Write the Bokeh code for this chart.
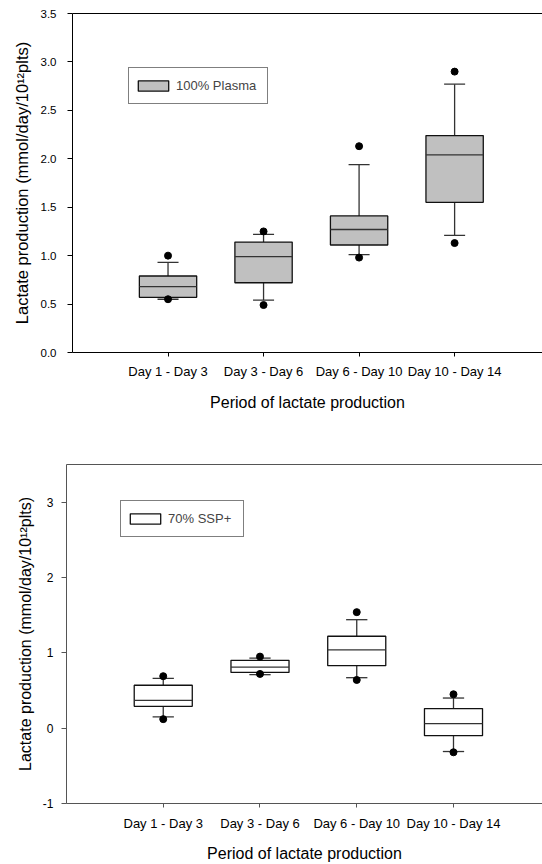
from bokeh.plotting import figure
from bokeh.models import (FixedTicker, LinearAxis, Legend, LegendItem,
                          NumeralTickFormatter, ColumnDataSource)
from bokeh.transform import dodge
from bokeh.embed import file_html
from bokeh.resources import INLINE

# ---------------- data ----------------
periods = ["Day 1 - Day 3", "Day 3 - Day 6", "Day 6 - Day 10", "Day 10 - Day 14"]
positions = [1, 2, 3, 4]

# 100% Plasma
plasma_q1 = [0.57, 0.72, 1.11, 1.55]
plasma_med = [0.68, 0.99, 1.27, 2.04]
plasma_q3 = [0.79, 1.14, 1.41, 2.24]
plasma_whisk_lo = [0.55, 0.54, 1.01, 1.21]
plasma_whisk_hi = [0.93, 1.22, 1.94, 2.77]
plasma_out_lo = [0.55, 0.49, 0.98, 1.13]
plasma_out_hi = [1.00, 1.25, 2.13, 2.90]

# 70% SSP+
ssp_q1 = [0.29, 0.74, 0.83, -0.10]
ssp_med = [0.37, 0.81, 1.04, 0.06]
ssp_q3 = [0.57, 0.90, 1.22, 0.26]
ssp_whisk_lo = [0.15, 0.71, 0.67, -0.31]
ssp_whisk_hi = [0.66, 0.93, 1.44, 0.40]
ssp_out_lo = [0.12, 0.72, 0.64, -0.32]
ssp_out_hi = [0.69, 0.95, 1.54, 0.45]

plasma_yticks = [0.0, 0.5, 1.0, 1.5, 2.0, 2.5, 3.0, 3.5]
ssp_yticks = [-1, 0, 1, 2, 3]

y_title = "Lactate production (mmol/day/10\u00b9\u00b2plts)"
x_title = "Period of lactate production"

FONT = "Liberation Sans"


def build(q1, med, q3, wlo, whi, olo, ohi, yrange, yticks, yfmt, legend_label,
          box_fill, axis_color, height, border_left, border_top, border_bottom,
          legend_loc, legend_label_width, ytick_size, ytick_standoff,
          xlabel_standoff, xtick_standoff, ytitle_size, ytitle_standoff):
    src = ColumnDataSource(dict(x=positions, q1=q1, med=med, q3=q3,
                                wlo=wlo, whi=whi, olo=olo, ohi=ohi))
    p = figure(width=542, height=height, x_range=(0, 4.92), y_range=yrange,
               output_backend="svg", toolbar_location=None,
               min_border_left=border_left, min_border_right=0,
               min_border_top=border_top, min_border_bottom=border_bottom)
    p.outline_line_color = None
    p.xgrid.visible = False
    p.ygrid.visible = False
    p.background_fill_color = "white"
    p.border_fill_color = "white"

    lc = "#333333"
    lw = 1.3
    # whiskers
    p.segment(x0="x", y0="q3", x1="x", y1="whi", source=src, line_color=lc, line_width=lw)
    p.segment(x0="x", y0="q1", x1="x", y1="wlo", source=src, line_color=lc, line_width=lw)
    # boxes
    box = p.vbar(x="x", width=0.6, bottom="q1", top="q3", source=src,
                 fill_color=box_fill, line_color="#111111", line_width=lw)
    # medians
    p.segment(x0=dodge("x", -0.3), y0="med", x1=dodge("x", 0.3), y1="med",
              source=src, line_color=lc, line_width=lw)
    # caps
    p.segment(x0=dodge("x", -0.11), y0="whi", x1=dodge("x", 0.11), y1="whi",
              source=src, line_color=lc, line_width=lw)
    p.segment(x0=dodge("x", -0.11), y0="wlo", x1=dodge("x", 0.11), y1="wlo",
              source=src, line_color=lc, line_width=lw)
    # outliers
    p.scatter(x="x", y="ohi", source=src, size=7, color="black")
    p.scatter(x="x", y="olo", source=src, size=7, color="black")

    # x axis
    xa = p.xaxis[0]
    xa.ticker = FixedTicker(ticks=positions)
    xa.major_label_overrides = {pos: lab for pos, lab in zip(positions, periods)}
    xa.minor_tick_line_color = None
    xa.major_tick_out = 4
    xa.major_tick_in = 0
    xa.major_label_standoff = xtick_standoff
    xa.major_label_text_font = FONT
    xa.major_label_text_font_size = "13px"
    xa.major_label_text_color = "black"
    xa.axis_label = x_title
    xa.axis_label_text_font = FONT
    xa.axis_label_text_font_size = "16px"
    xa.axis_label_text_font_style = "normal"
    xa.axis_label_text_color = "black"
    xa.axis_label_standoff = xlabel_standoff
    xa.axis_line_color = axis_color
    xa.major_tick_line_color = axis_color

    # y axis
    ya = p.yaxis[0]
    ya.ticker = FixedTicker(ticks=yticks)
    ya.formatter = NumeralTickFormatter(format=yfmt)
    ya.minor_tick_line_color = None
    ya.major_tick_out = 5
    ya.major_tick_in = 0
    ya.major_label_standoff = ytick_standoff
    ya.major_label_text_font = FONT
    ya.major_label_text_font_size = ytick_size
    ya.major_label_text_color = "black"
    ya.axis_line_color = axis_color
    ya.major_tick_line_color = axis_color
    ya.axis_label = y_title
    ya.axis_label_text_font = FONT
    ya.axis_label_text_font_size = ytitle_size
    ya.axis_label_text_font_style = "normal"
    ya.axis_label_text_color = "black"
    ya.axis_label_standoff = ytitle_standoff

    # top frame line
    top_ax = LinearAxis(ticker=FixedTicker(ticks=[]), major_tick_out=0, major_tick_in=0,
                        major_label_standoff=0, major_label_text_font_size="0px",
                        minor_tick_line_color=None, major_tick_line_color=None,
                        axis_line_color=axis_color)
    p.add_layout(top_ax, "above")

    legend = Legend(items=[LegendItem(label=legend_label, renderers=[box])],
                    location=legend_loc, margin=0, padding=5, spacing=0,
                    glyph_width=38, glyph_height=13, label_standoff=4,
                    label_height=25, label_width=legend_label_width,
                    label_text_font=FONT, label_text_font_size="13px",
                    border_line_color="black", border_line_width=1.2,
                    background_fill_color="white", background_fill_alpha=1.0)
    p.add_layout(legend)
    return p


p1 = build(plasma_q1, plasma_med, plasma_q3, plasma_whisk_lo, plasma_whisk_hi,
           plasma_out_lo, plasma_out_hi, (0, 3.5), plasma_yticks, "0.0",
           "100% Plasma", "#c0c0c0", "black", 420, 72, 13, 68, (56, 248), 86,
           "11.5px", 11, 12, 7, "16.5px", 7)

p2 = build(ssp_q1, ssp_med, ssp_q3, ssp_whisk_lo, ssp_whisk_hi,
           ssp_out_lo, ssp_out_hi, (-1, 3.5), ssp_yticks, "0",
           "70% SSP+", "white", "#555555", 444, 66, 44, 61, (54, 266), 70,
           "12px", 8, 11, 8, "16px", 6)

# two independent roots stacked vertically (frames are not forced to align)
open("out.html", "w").write(file_html([p1, p2], INLINE))
